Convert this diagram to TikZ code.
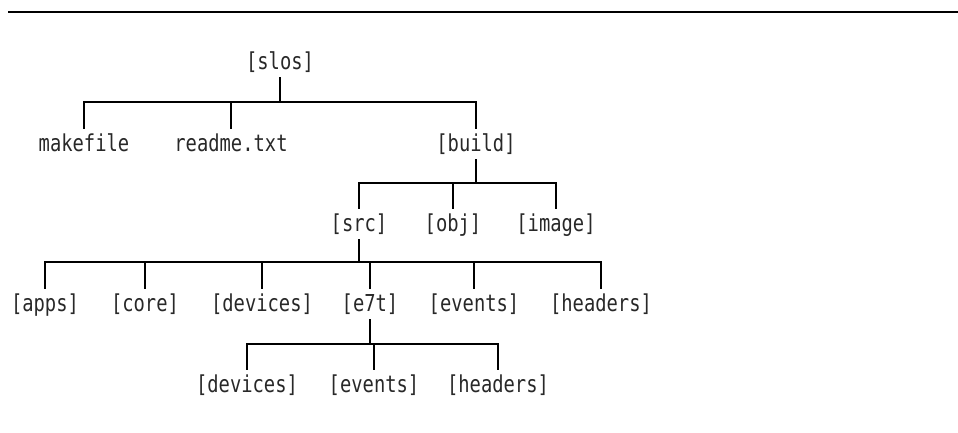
\documentclass[tikz,border=0pt]{standalone}
\usepackage{fontspec}
\newfontfamily\dirfont[FakeStretch=0.807]{DejaVu Sans Mono}
\definecolor{ink}{RGB}{40,40,40}
\tikzset{
  dir/.style={inner sep=0pt,minimum height=30pt,text height=15.3pt,text depth=0.7pt,
    font=\dirfont\fontsize{23.3}{26}\selectfont,text=ink},
  branch/.style={line width=2pt,draw=black},
}
\begin{document}
\begin{tikzpicture}[x=1pt,y=-1pt]
        \useasboundingbox (0,0) rectangle (958,433);
        \draw[line width=1.5pt] (8,12) -- (958,12);
        % levels of the tree
        \node[dir] (slos) at (280,62) {[slos]};
        \node[dir] (makefile) at (84,144) {makefile};
        \node[dir] (readme) at (231,144) {readme.txt};
        \node[dir] (build) at (476,144) {[build]};
        \node[dir] (src) at (359,224) {[src]};
        \node[dir] (obj) at (453,224) {[obj]};
        \node[dir] (image) at (556,224) {[image]};
        \node[dir] (apps) at (45,304) {[apps]};
        \node[dir] (core) at (145,304) {[core]};
        \node[dir] (devA) at (262,304) {[devices]};
        \node[dir] (e7t) at (370,304) {[e7t]};
        \node[dir] (eventsA) at (474,304) {[events]};
        \node[dir] (headersA) at (601,304) {[headers]};
        \node[dir] (devB) at (247,385) {[devices]};
        \node[dir] (eventsB) at (374,385) {[events]};
        \node[dir] (headersB) at (498,385) {[headers]};
        % branches
        \foreach \c in {makefile,readme,build}
          \draw[branch] (slos.south) -- ++(0,25) -| (\c.north);
        \foreach \c in {src,obj,image}
          \draw[branch] (build.south) -- ++(0,24) -| (\c.north);
        \foreach \c in {apps,core,devA,e7t,eventsA,headersA}
          \draw[branch] (src.south) -- ++(0,23) -| (\c.north);
        \foreach \c in {devB,eventsB,headersB}
          \draw[branch] (e7t.south) -- ++(0,25) -| (\c.north);
      \end{tikzpicture}
\end{document}
